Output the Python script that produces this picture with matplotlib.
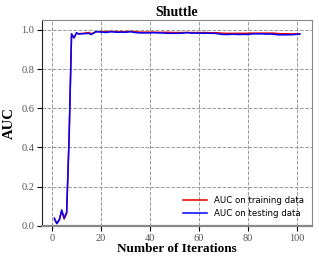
import matplotlib
matplotlib.use("Agg")
import matplotlib.pyplot as plt

# iterations 1..101
iters = list(range(1, 102))

train_auc = [0.035, 0.012, 0.030, 0.075, 0.035, 0.065, 0.45, 0.975, 0.960, 0.982,
             0.980, 0.981, 0.982, 0.984, 0.986, 0.980, 0.985, 0.990, 0.991, 0.990,
             0.991, 0.990, 0.991, 0.992, 0.991, 0.991, 0.990, 0.991, 0.990, 0.990,
             0.991, 0.992, 0.991, 0.990, 0.989, 0.988, 0.988, 0.988, 0.988, 0.988,
             0.988, 0.988, 0.987, 0.987, 0.987, 0.987, 0.987, 0.987, 0.986, 0.986,
             0.986, 0.986, 0.986, 0.986, 0.987, 0.986, 0.986, 0.986, 0.986, 0.986,
             0.986, 0.986, 0.986, 0.985, 0.985, 0.985, 0.985, 0.984, 0.983, 0.982,
             0.982, 0.982, 0.982, 0.982, 0.982, 0.982, 0.982, 0.982, 0.982, 0.982,
             0.983, 0.983, 0.983, 0.983, 0.983, 0.983, 0.983, 0.983, 0.983, 0.983,
             0.982, 0.981, 0.980, 0.980, 0.980, 0.980, 0.979, 0.979, 0.979, 0.979,
             0.980]

test_auc = [0.040, 0.012, 0.030, 0.082, 0.040, 0.070, 0.45, 0.980, 0.958, 0.985,
            0.978, 0.980, 0.980, 0.981, 0.982, 0.976, 0.983, 0.990, 0.990, 0.988,
            0.988, 0.986, 0.988, 0.990, 0.989, 0.988, 0.987, 0.988, 0.988, 0.987,
            0.989, 0.990, 0.988, 0.986, 0.985, 0.984, 0.984, 0.984, 0.984, 0.984,
            0.985, 0.985, 0.984, 0.984, 0.984, 0.983, 0.982, 0.982, 0.982, 0.982,
            0.982, 0.982, 0.983, 0.984, 0.985, 0.984, 0.983, 0.983, 0.983, 0.983,
            0.983, 0.982, 0.983, 0.982, 0.982, 0.982, 0.981, 0.979, 0.977, 0.976,
            0.976, 0.976, 0.977, 0.977, 0.977, 0.976, 0.976, 0.977, 0.976, 0.976,
            0.978, 0.979, 0.979, 0.979, 0.979, 0.979, 0.978, 0.978, 0.978, 0.978,
            0.976, 0.975, 0.974, 0.974, 0.975, 0.974, 0.975, 0.975, 0.976, 0.977,
            0.978]

fig = plt.figure(figsize=(3.19, 2.63), dpi=100)
ax = fig.add_axes([0.132, 0.141, 0.846, 0.783])

ax.plot(iters, train_auc, color="#e00000", lw=1.1, label="AUC on training data")
ax.plot(iters, test_auc, color="#0000ff", lw=1.1, label="AUC on testing data")

ax.set_ylim(0, 1.05)
ax.set_xlim(-4, 106)
ax.set_xticks([0, 20, 40, 60, 80, 100])
ax.set_yticks([0.0, 0.2, 0.4, 0.6, 0.8, 1.0])
ax.grid(True, ls="--", color="#999999", lw=0.7)

for s in ["top", "right", "bottom"]:
    ax.spines[s].set_color("#888888")
ax.spines["bottom"].set_linewidth(1.6)
ax.spines["left"].set_color("#222222")

ax.tick_params(direction="out", length=3.5, pad=2, labelsize=7.5, labelcolor="#555555")
for lab in ax.get_xticklabels() + ax.get_yticklabels():
    lab.set_family("Liberation Serif")

ax.set_title("Shuttle", family="Liberation Serif", fontweight="bold", fontsize=10, pad=3)
ax.set_xlabel("Number of Iterations", family="Liberation Serif", fontweight="bold", fontsize=9.5)
ax.set_ylabel("AUC", family="Liberation Serif", fontweight="bold", fontsize=10.5)
ax.xaxis.set_label_coords(0.5, -0.085)
ax.yaxis.set_label_coords(-0.096, 0.5)

ax.legend(loc="lower right", frameon=False, fontsize=6.2, handlelength=2.8)

fig.savefig("out.png", dpi=100)
